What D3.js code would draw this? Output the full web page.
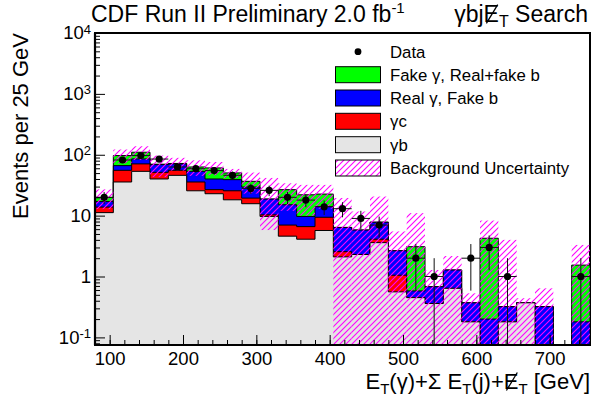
<!DOCTYPE html>
<html>
<head>
<meta charset="utf-8">
<script src="https://cdn.jsdelivr.net/npm/d3@7"></script>
<style>
  html, body { margin: 0; padding: 0; background: #fff; }
  svg { display: block; font-family: "Liberation Sans", Arial, Helvetica, sans-serif; }
</style>
</head>
<body>
<svg id="chart" width="595" height="402"></svg>
<script>
// Lower edges of the 25 GeV bins
const binLow = [80, 105, 130, 155, 180, 205, 230, 255, 280, 305, 330, 355, 380, 405,
                430, 455, 480, 505, 530, 555, 580, 605, 630, 655, 680, 705, 730];
const binWidth = 25;

// Background components, events per bin (stacked bottom to top)
const gammaB      = [11.2, 35.7, 53.4, 40, 45.9, 25.6, 22.9, 18.2, 15.7, 9.7, 4.6, 4.1, 5.7, 2.1,
                     2.3, 3.6, 0.56, 0.45, 0.36, 0.64, 0.18, 0, 0.18, 0.37, 0, 0, 0];
const gammaC      = [2.6, 19.8, 17.4, 11.4, 9.6, 10.1, 3.8, 7.4, 3.7, 0.6, 2.4, 2.5, 3.7, 0.46,
                     0, 0.5, 0.49, 0, 0, 0, 0, 0, 0, 0, 0, 0, 0];
const realGamFakeB = [3.3, 10.8, 14.7, 17.5, 15.3, 17.7, 13.3, 13.4, 10.1, 8.4, 8.1, 3.1, 4.7, 3.84,
                     3.5, 3.7, 1.6, 0.13, 0.32, 0.64, 0.19, 0.2, 0.14, 0, 0.32, 0, 0.18];
const fakeGamma   = [2.8, 30.7, 24.5, 1.1, 1.2, 9.6, 20.8, 11.3, 7.1, 0, 11.6, 12.3, 8.5, 0,
                     0, 0, 0, 2.51, 0, 0, 0, 4.05, 0, 0, 0, 0, 1.36];

// Background uncertainty band edges (0 = reaches the bottom of the axis)
const bandLow  = [12.8, 72, 82, 43, 55, 45, 46, 41.5, 23, 5.8, 12, 10, 13, 0,
                  0, 0, 0, 0, 0, 0, 0, 0, 0, 0, 0, 0, 0];
const bandHigh = [27, 122, 138, 97, 89, 81, 76, 58.5, 51, 41.6, 34, 32, 32, 19.5,
                  11.7, 20.6, 5.5, 11, 1.28, 2.17, 0.53, 8.3, 4, 0.44, 0.64, 0, 3.3];

// Observed events
const dataCounts = [20, 82, 97, 85, 63, 59, 55, 46, 28, 26, 20, 18, 14, 13,
                    9, 7, 0, 2, 1, 0, 2, 3, 1, 0, 0, 0, 1];

const legendLabels = ["Data", "Fake \u03b3, Real+fake b", "Real \u03b3, Fake b", "\u03b3c", "\u03b3b",
                      "Background Uncertainty"];

const xMajorTicks = [100, 200, 300, 400, 500, 600, 700];
const yMajorTicks = [0.1, 1, 10, 100, 1000, 10000];
const yTickLabels = [["10", "-1"], ["1", ""], ["10", ""], ["10", "2"], ["10", "3"], ["10", "4"]];

// ---------------------------------------------------------------------------
const svg = d3.select("#chart");
const x = d3.scaleLinear().domain([80, 755]).range([95, 590]);
const y = d3.scaleLog().domain([0.075, 10000]).range([345, 33]);
const [xL, xR] = x.range();
const [yBot, yTop] = y.range();
const Y = v => (v > 0 ? Math.min(y(v), yBot) : yBot);

const defs = svg.append("defs");
defs.append("clipPath").attr("id", "plotClip")
  .append("rect").attr("x", xL).attr("y", yTop).attr("width", xR - xL).attr("height", yBot - yTop);
const pat = defs.append("pattern").attr("id", "hatch").attr("patternUnits", "userSpaceOnUse")
  .attr("width", 6).attr("height", 6);
pat.append("path").attr("d", "M0,6L6,0M-1,1L1,-1M5,7L7,5")
  .attr("stroke", "#ff00ff").attr("stroke-width", 1.1).attr("fill", "none");

// frame (top and right edges sit underneath the histograms)
svg.append("rect").attr("x", xL).attr("y", yTop).attr("width", xR - xL).attr("height", yBot - yTop)
  .attr("fill", "none").attr("stroke", "#000").attr("stroke-width", 2);

const plot = svg.append("g").attr("clip-path", "url(#plotClip)");

// stacked histograms, cumulative sums drawn from the top component down
const comps = [gammaB, gammaC, realGamFakeB, fakeGamma];
const fills = ["#e5e5e5", "#ff0000", "#0000ff", "#00ff00"];
const cum = [];
comps.forEach((c, k) => cum.push(c.map((v, i) => v + (k ? cum[k - 1][i] : 0))));

function stepPath(vals) {
  let p = `M${x(binLow[0])},${yBot}`;
  vals.forEach((v, i) => {
    const yy = Y(v);
    p += `L${x(binLow[i])},${yy}L${x(binLow[i] + binWidth)},${yy}`;
  });
  p += `L${x(binLow[binLow.length - 1] + binWidth)},${yBot}Z`;
  return p;
}
for (let k = comps.length - 1; k >= 0; k--) {
  plot.append("path").attr("d", stepPath(cum[k]))
    .attr("fill", fills[k]).attr("stroke", "#000").attr("stroke-width", 1);
}

// background uncertainty band
plot.selectAll("rect.band").data(binLow.map((b, i) => i).filter(i => bandHigh[i] > 0))
  .join("rect").attr("class", "band")
  .attr("x", i => x(binLow[i])).attr("width", i => x(binLow[i] + binWidth) - x(binLow[i]))
  .attr("y", i => Y(bandHigh[i])).attr("height", i => Y(bandLow[i]) - Y(bandHigh[i]))
  .attr("fill", "url(#hatch)");

// data with Poisson error bars
const pts = binLow.map((b, i) => ({ lo: b, n: dataCounts[i] })).filter(d => d.n > 0);
const dg = plot.append("g");
pts.forEach(d => {
  const cx = x(d.lo + binWidth / 2), cy = Y(d.n), e = Math.sqrt(d.n);
  dg.append("line").attr("x1", cx).attr("x2", cx).attr("y1", Y(d.n + e)).attr("y2", Y(d.n - e))
    .attr("stroke", "#111").attr("stroke-width", 1);
  dg.append("line").attr("x1", x(d.lo)).attr("x2", x(d.lo + binWidth)).attr("y1", cy).attr("y2", cy)
    .attr("stroke", "#111").attr("stroke-width", 1);
  dg.append("circle").attr("cx", cx).attr("cy", cy).attr("r", 3.6).attr("fill", "#000");
});

// axes
const xMinor = d3.range(80, 756, 20);
svg.append("g").attr("transform", `translate(0,${yBot})`)
  .call(d3.axisBottom(x).tickValues(xMinor).tickSizeInner(-5).tickSizeOuter(0).tickFormat(""))
  .call(g => g.select(".domain").remove());
const gx = svg.append("g").attr("transform", `translate(0,${yBot})`)
  .call(d3.axisBottom(x).tickValues(xMajorTicks).tickSizeInner(-10).tickSizeOuter(0).tickPadding(7))
  .call(g => g.select(".domain").remove());
gx.selectAll("text").attr("font-size", 18.5).attr("fill", "#000").attr("font-family", null);

const yMinor = [];
[0.01, 0.1, 1, 10, 100, 1000].forEach(d => { for (let m = 2; m <= 9; m++) yMinor.push(d * m); });
svg.append("g").attr("transform", `translate(${xL},0)`)
  .call(d3.axisLeft(y).tickValues(yMinor.filter(v => v >= 0.075 && v <= 10000))
    .tickSizeInner(-5).tickSizeOuter(0).tickFormat(""))
  .call(g => g.select(".domain").remove());
const gy = svg.append("g").attr("transform", `translate(${xL},0)`)
  .call(d3.axisLeft(y).tickValues(yMajorTicks).tickSizeInner(-10).tickSizeOuter(0).tickPadding(4).tickFormat(""))
  .call(g => g.select(".domain").remove());
gy.selectAll(".tick text").each(function (d, i) {
  const t = d3.select(this).attr("font-size", 18.5).attr("fill", "#000").attr("font-family", null);
  const [base, ex] = yTickLabels[i];
  t.text(null);
  t.append("tspan").text(base);
  if (ex) t.append("tspan").attr("dy", "-0.45em").attr("font-size", 13).text(ex);
});
svg.selectAll(".tick line").attr("stroke", "#000").attr("stroke-width", 1);

svg.append("line").attr("x1", xL).attr("x2", xR).attr("y1", yBot).attr("y2", yBot)
  .attr("stroke", "#000").attr("stroke-width", 2.2);
svg.append("line").attr("x1", xL).attr("x2", xL).attr("y1", yTop).attr("y2", yBot)
  .attr("stroke", "#000").attr("stroke-width", 2.2);

// helper: slash through a tspan glyph (missing-E_T symbol)
function slash(tspan) {
  const bb = tspan.node().getBBox();
  svg.append("line")
    .attr("x1", bb.x + bb.width * 0.18).attr("y1", bb.y + bb.height * 0.86)
    .attr("x2", bb.x + bb.width * 0.92).attr("y2", bb.y + bb.height * 0.14)
    .attr("stroke", "#000").attr("stroke-width", 1.3);
}

// titles
const t1 = svg.append("text").attr("x", 91).attr("y", 22).attr("font-size", 23);
t1.append("tspan").text("CDF Run II Preliminary 2.0 fb");
t1.append("tspan").attr("dy", -9).attr("font-size", 15).text("-1");

const t2 = svg.append("text").attr("x", 588).attr("y", 22).attr("font-size", 23).attr("text-anchor", "end");
t2.append("tspan").text("\u03b3bj");
const eT2 = t2.append("tspan").text("E");
t2.append("tspan").attr("dy", 5).attr("font-size", 16).text("T");
t2.append("tspan").attr("dy", -5).text(" Search");
slash(eT2);

const xt = svg.append("text").attr("x", 590).attr("y", 389).attr("font-size", 22).attr("text-anchor", "end");
xt.append("tspan").text("E");
xt.append("tspan").attr("dy", 5).attr("font-size", 15).text("T");
xt.append("tspan").attr("dy", -5).text("(\u03b3)+\u03a3 E");
xt.append("tspan").attr("dy", 5).attr("font-size", 15).text("T");
xt.append("tspan").attr("dy", -5).text("(j)+");
const eX = xt.append("tspan").text("E");
xt.append("tspan").attr("dy", 5).attr("font-size", 15).text("T");
xt.append("tspan").attr("dy", -5).text(" [GeV]");
slash(eX);

// y-axis title, right-aligned at the top of the axis
svg.append("text").attr("transform", `translate(28,${yTop}) rotate(-90)`)
  .attr("text-anchor", "end").attr("font-size", 22).text("Events per 25 GeV");

// legend
const lg = svg.append("g");
const rowY = [51.7, 74.7, 98, 121.3, 144.7, 168];
const legFills = [null, "#00ff00", "#0000ff", "#ff0000", "#e5e5e5", "url(#hatch)"];
legendLabels.forEach((lab, i) => {
  if (i === 0) {
    lg.append("circle").attr("cx", 358).attr("cy", rowY[i]).attr("r", 3.4).attr("fill", "#000");
  } else {
    lg.append("rect").attr("x", 335.5).attr("y", rowY[i] - 8).attr("width", 45).attr("height", 16)
      .attr("fill", legFills[i]).attr("stroke", "#000").attr("stroke-width", 1);
  }
  lg.append("text").attr("x", 390).attr("y", rowY[i]).attr("dy", "0.36em")
    .attr("font-size", 16.8).text(lab);
});
</script>
</body>
</html>
